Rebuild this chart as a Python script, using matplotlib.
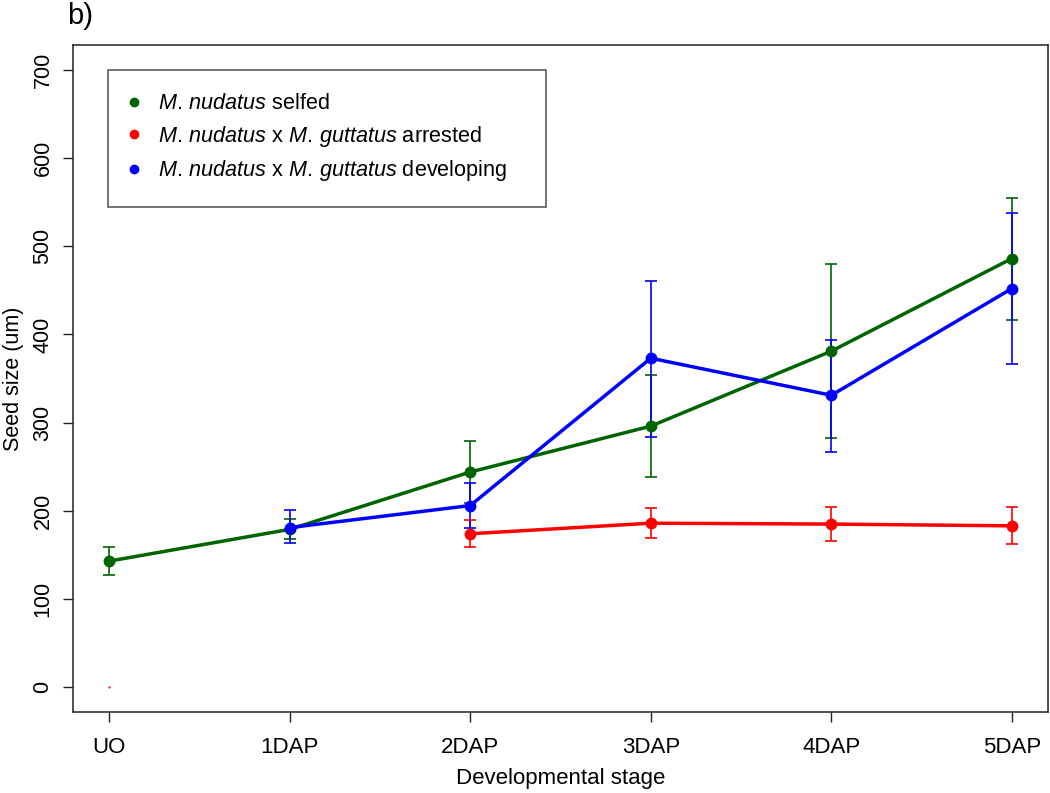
import numpy as np
import matplotlib
matplotlib.use('Agg')
import matplotlib.pyplot as plt
from matplotlib.lines import Line2D

plt.rcParams['font.family'] = ['Liberation Sans', 'DejaVu Sans']
plt.rcParams['mathtext.fontset'] = 'custom'
plt.rcParams['mathtext.rm'] = 'Liberation Sans'
plt.rcParams['mathtext.it'] = 'Liberation Sans:italic'

# developmental stages
stages = ['UO', '1DAP', '2DAP', '3DAP', '4DAP', '5DAP']

# M. nudatus selfed: mean and error bar ends
selfed_mean = [143, 179, 244, 296, 381, 486]
selfed_hi = [159, 191, 279, 354, 480, 555]
selfed_lo = [127, 168, 209, 238, 283, 416]

# M. nudatus x M. guttatus arrested (UO plotted as a stray 0, none at 1DAP)
arrested_mean = [0, np.nan, 174, 186, 185, 183]
arrested_hi = [0, np.nan, 190, 203, 204, 204]
arrested_lo = [0, np.nan, 159, 169, 166, 162]

# M. nudatus x M. guttatus developing
developing_mean = [np.nan, 181, 206, 373, 331, 452]
developing_hi = [np.nan, 201, 232, 461, 394, 538]
developing_lo = [np.nan, 163, 181, 284, 267, 367]

green = '#006400'
red = '#FF0000'
blue = '#0000FF'


def draw_series(ax, mean, hi, lo, color, markevery=None):
    x = np.arange(len(mean))
    mean = np.array(mean, dtype=float)
    hi = np.array(hi, dtype=float)
    lo = np.array(lo, dtype=float)
    ok = ~np.isnan(mean) & (hi > lo)
    ax.errorbar(x[ok], mean[ok], yerr=[mean[ok] - lo[ok], hi[ok] - mean[ok]],
                fmt='none', ecolor=color, elinewidth=1.2, capsize=4.3,
                capthick=1.2, zorder=2)
    ax.plot(x, mean, '-', color=color, lw=2.5, marker='o', ms=7.5,
            markevery=markevery, zorder=3)


fig = plt.figure(figsize=(10.5, 7.93), dpi=100)
ax = fig.add_axes([73/1050, 81/793, 975/1050, 667/793])

draw_series(ax, selfed_mean, selfed_hi, selfed_lo, green)
draw_series(ax, arrested_mean, arrested_hi, arrested_lo, red,
            markevery=[2, 3, 4, 5])
ax.plot([0], [arrested_mean[0]], '.', color=red, ms=1.2, zorder=3)
draw_series(ax, developing_mean, developing_hi, developing_lo, blue,
            markevery=[1, 2, 3, 4, 5])

ax.set_xlim(-0.2, 5.2)
ax.set_ylim(-28, 728)
ax.set_xticks(range(len(stages)))
ax.set_xticklabels(stages, fontsize=16)
ax.set_yticks(range(0, 701, 100))
ax.set_yticklabels([str(v) for v in range(0, 701, 100)], fontsize=15.5,
                   rotation=90, va='center')
ax.tick_params(axis='both', direction='out', length=7, width=1, color='#222222')
ax.tick_params(axis='x', pad=11)
ax.tick_params(axis='y', pad=7)
for s in ax.spines.values():
    s.set_linewidth(1.1)
    s.set_color('#222222')

ax.set_xlabel('Developmental stage', fontsize=16, labelpad=7)
ax.set_ylabel('Seed size (um)', fontsize=15.5, labelpad=6)

handles = [Line2D([], [], ls='none', marker='o', ms=6, color=c)
           for c in (green, red, blue)]
labels = [r'$\mathit{M.\,nudatus}$ selfed',
          r'$\mathit{M.\,nudatus}$ x $\mathit{M.\,guttatus}$ arrested',
          r'$\mathit{M.\,nudatus}$ x $\mathit{M.\,guttatus}$ developing']
leg = ax.legend(handles, labels, loc='upper left',
                bbox_to_anchor=(35/975, 0.0, 438/975, 1 - 25/667),
                mode='expand', fontsize=15.6, frameon=True, fancybox=False,
                edgecolor='#222222', borderpad=1.08, labelspacing=0.44,
                handletextpad=1.05, handlelength=0.2, borderaxespad=0)
leg.get_frame().set_linewidth(1.1)

fig.text(67/1050, 1 - 24/793, 'b)', fontsize=21, va='baseline', ha='left')

fig.savefig('out.png', dpi=100)
